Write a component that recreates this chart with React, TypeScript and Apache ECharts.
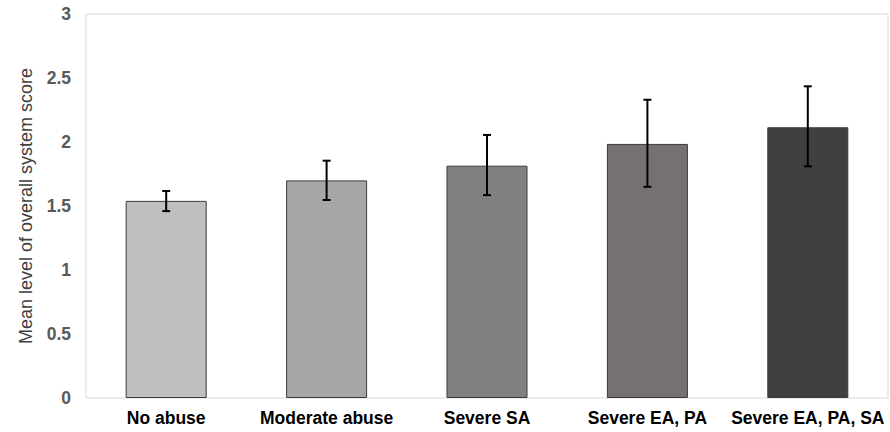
import React, { useEffect, useRef } from "react";
import * as echarts from "echarts";

const categories = ["No abuse", "Moderate abuse", "Severe SA", "Severe EA, PA", "Severe EA, PA, SA"];
const means = [1.54, 1.70, 1.815, 1.985, 2.115];
const errLow = [1.46, 1.547, 1.585, 1.65, 1.81];
const errHigh = [1.617, 1.854, 2.055, 2.33, 2.435];
const barColors = ["#bfbfbf", "#a6a6a6", "#808080", "#767171", "#404040"];
const yTicks = [0, 0.5, 1, 1.5, 2, 2.5, 3];

export default function App() {
  const ref = useRef<HTMLDivElement>(null);
  useEffect(() => {
    document.body.style.margin = "0";
    const chart = echarts.init(ref.current!, undefined, { renderer: "svg" });
    chart.setOption({
      animation: false,
      backgroundColor: "#ffffff",
      grid: {
        left: 86,
        right: 2,
        top: 14,
        bottom: 34,
        show: true,
        borderColor: "#d9d9d9",
        borderWidth: 1,
        backgroundColor: "transparent",
      },
      xAxis: {
        type: "category",
        data: categories,
        axisLine: { show: false },
        axisTick: { show: false },
        axisLabel: {
          color: "#000000",
          fontFamily: "Liberation Sans, Arial, sans-serif",
          fontWeight: "bold",
          fontSize: 17.5,
          margin: 11,
          interval: 0,
        },
      },
      yAxis: {
        type: "value",
        min: 0,
        max: 3,
        interval: 0.5,
        name: "Mean level of overall system score",
        nameLocation: "middle",
        nameRotate: 90,
        nameGap: 51,
        nameTextStyle: {
          color: "#404040",
          fontFamily: "Liberation Sans, Arial, sans-serif",
          fontSize: 18,
        },
        axisLine: { show: false },
        axisTick: { show: false },
        splitLine: { show: false },
        axisLabel: {
          color: "#595959",
          fontFamily: "Liberation Sans, Arial, sans-serif",
          fontWeight: "bold",
          fontSize: 17.5,
          margin: 15,
          formatter: (v: number) => (yTicks.includes(v) ? String(v) : ""),
        },
      },
      series: [
        {
          type: "bar",
          barWidth: "50.5%",
          data: means.map((v, i) => ({
            value: v,
            itemStyle: { color: barColors[i], borderColor: "#3a3a3a", borderWidth: 1 },
          })),
        },
        {
          type: "custom",
          data: categories.map((_, i) => [i, errLow[i], errHigh[i]]),
          z: 10,
          renderItem: (params: any, api: any) => {
            const x = api.coord([api.value(0), api.value(1)])[0];
            const yLo = api.coord([api.value(0), api.value(1)])[1];
            const yHi = api.coord([api.value(0), api.value(2)])[1];
            const cap = 4;
            const style = { stroke: "#000000", lineWidth: 2 };
            return {
              type: "group",
              children: [
                { type: "line", shape: { x1: x, y1: yHi, x2: x, y2: yLo }, style },
                { type: "line", shape: { x1: x - cap, y1: yHi, x2: x + cap, y2: yHi }, style },
                { type: "line", shape: { x1: x - cap, y1: yLo, x2: x + cap, y2: yLo }, style },
              ],
            };
          },
        },
      ],
    });
    return () => chart.dispose();
  }, []);
  return <div ref={ref} style={{ width: 890, height: 432 }} />;
}
